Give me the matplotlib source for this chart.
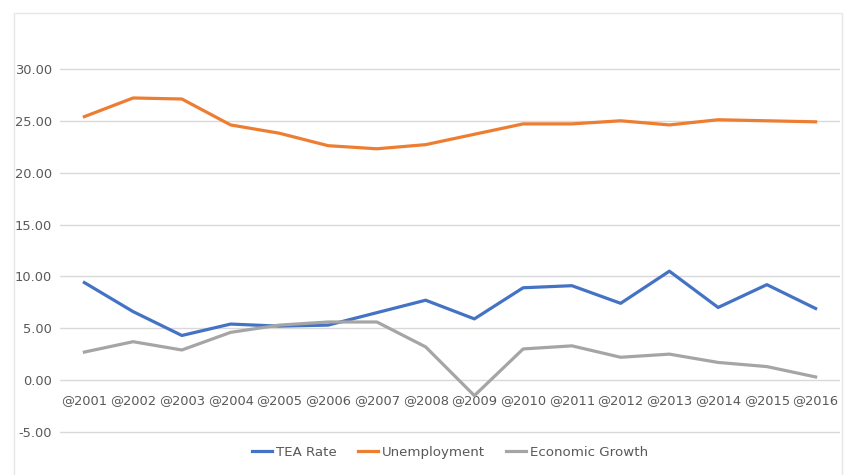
import matplotlib.pyplot as plt
from matplotlib.patches import Rectangle

years = ['@2001', '@2002', '@2003', '@2004', '@2005', '@2006', '@2007', '@2008',
         '@2009', '@2010', '@2011', '@2012', '@2013', '@2014', '@2015', '@2016']
tea_rate = [9.4, 6.6, 4.3, 5.4, 5.2, 5.3, 6.5, 7.7, 5.9, 8.9, 9.1, 7.4, 10.5, 7.0, 9.2, 6.9]
unemployment = [25.4, 27.2, 27.1, 24.6, 23.8, 22.6, 22.3, 22.7, 23.7, 24.7, 24.7, 25.0, 24.6, 25.1, 25.0, 24.9]
econ_growth = [2.7, 3.7, 2.9, 4.6, 5.3, 5.6, 5.6, 3.2, -1.5, 3.0, 3.3, 2.2, 2.5, 1.7, 1.3, 0.3]
y_ticks = [-5, 0, 5, 10, 15, 20, 25, 30]

W, H = 847, 475
fig = plt.figure(figsize=(W / 100, H / 100), dpi=100)
fig.patch.set_facecolor('white')

# faint chart border
fig.patches.append(Rectangle((14 / W, -0.01), 828 / W, (H - 13) / H + 0.01,
                             transform=fig.transFigure, fill=False,
                             edgecolor='#e6e6e6', linewidth=1))

ax = fig.add_axes([60 / W, (H - 434) / H, (840 - 60) / W, (434 - 15) / H])
x = list(range(len(years)))

ax.plot(x, tea_rate, color='#4472C4', linewidth=2.3, label='TEA Rate', zorder=3)
ax.plot(x, unemployment, color='#ED7D31', linewidth=2.3, label='Unemployment', zorder=3)
ax.plot(x, econ_growth, color='#A5A5A5', linewidth=2.3, label='Economic Growth', zorder=3)

ax.set_xlim(-0.5, len(years) - 0.5)
ax.set_ylim(-5.2, 35.2)
ax.set_yticks(y_ticks)
ax.set_yticklabels(['%.2f' % v for v in y_ticks])
ax.yaxis.grid(True, color='#d9d9d9', linewidth=1)
ax.set_axisbelow(True)

for s in ['top', 'right', 'left']:
    ax.spines[s].set_visible(False)
ax.spines['bottom'].set_position(('data', 0))
ax.spines['bottom'].set_visible(False)

ax.set_xticks(x)
ax.set_xticklabels(years)
ax.tick_params(axis='x', length=0, pad=10, labelsize=9.4, labelcolor='#595959')
ax.tick_params(axis='y', length=0, pad=6, labelsize=9.4, labelcolor='#595959')

ax.legend(loc='upper center', bbox_to_anchor=(0.5, 0.0), ncol=3, frameon=False,
          fontsize=9.6, labelcolor='#595959', handlelength=1.5, handletextpad=0.3,
          columnspacing=1.6)

fig.savefig('out.png', dpi=100, facecolor='white')
